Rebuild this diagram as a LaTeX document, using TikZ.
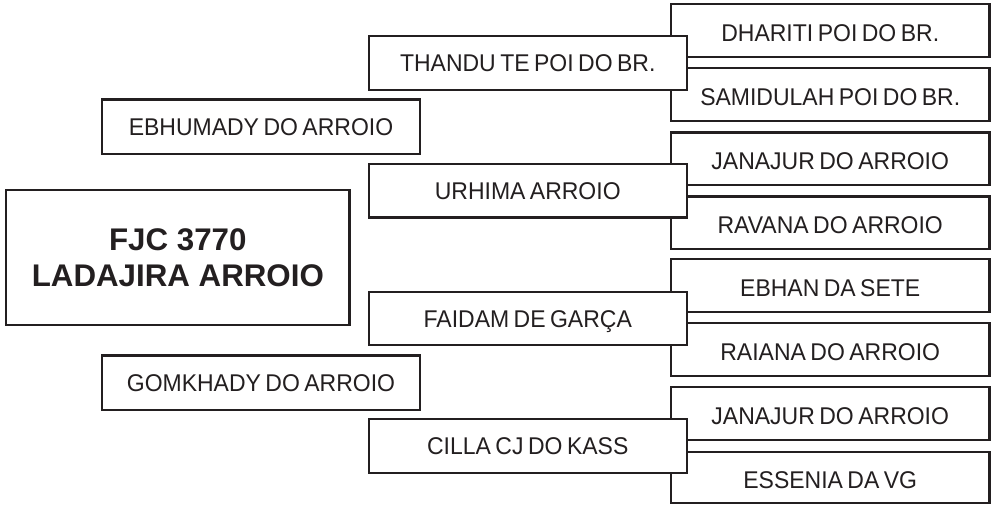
\documentclass[tikz,border=0pt]{standalone}
\usepackage{fontspec}
\setmainfont{Liberation Sans}
\newfontfamily\condsans[FakeStretch=0.95,WordSpace=0.7]{Liberation Sans}
\definecolor{ink}{HTML}{231F20}
\begin{document}
\begin{tikzpicture}[x=1pt,y=-1pt,
  common/.style={draw=ink, line width=2.2pt, fill=white, rectangle, inner sep=0pt, text=ink},
  small/.style={common, font=\condsans\fontsize{24.2}{29}\selectfont, text height=17.3pt, text depth=0pt},
  lbox/.style={small, minimum width=317.9pt, minimum height=53.6pt},
  gbox/.style={small, minimum width=318.6pt, minimum height=54.2pt},
  rbox/.style={small, minimum width=318.5pt, minimum height=52.5pt, text height=22.1pt},
  mainbox/.style={common, minimum width=343.3pt, minimum height=135.3pt, align=center,
    font=\bfseries\fontsize{31.3}{35.5}\selectfont}
]
\useasboundingbox (0,0) rectangle (994,504);
% right column
\node[rbox] (r1) at (830.25,30.45) {DHARITI POI DO BR.};
\node[rbox] (r2) at (830.25,94.55) {SAMIDULAH POI DO BR.};
\node[rbox] (r3) at (830.25,158.75) {JANAJUR DO ARROIO};
\node[rbox] (r4) at (830.25,222.75) {RAVANA DO ARROIO};
\node[rbox] (r5) at (830.25,285.55) {EBHAN DA SETE};
\node[rbox] (r6) at (830.25,349.55) {RAIANA DO ARROIO};
\node[rbox] (r7) at (830.25,413.55) {JANAJUR DO ARROIO};
\node[rbox, minimum height=51.6pt] (r8) at (830.25,477.5) {ESSENIA DA VG};
% middle column
\node[lbox] (p1) at (527.75,63) {THANDU TE POI DO BR.};
\node[lbox] (p2) at (527.75,190.7) {URHIMA ARROIO};
\node[lbox] (p3) at (527.75,318.4) {FAIDAM DE GARÇA};
\node[lbox] (p4) at (527.75,446.1) {CILLA CJ DO KASS};
% left column
\node[gbox] (g1) at (261,126.65) {EBHUMADY DO ARROIO};
\node[gbox] (g2) at (261,382.5) {GOMKHADY DO ARROIO};
\node[mainbox] (m) at (177.85,257.6) {FJC 3770\\LADAJIRA ARROIO};
\end{tikzpicture}
\end{document}
